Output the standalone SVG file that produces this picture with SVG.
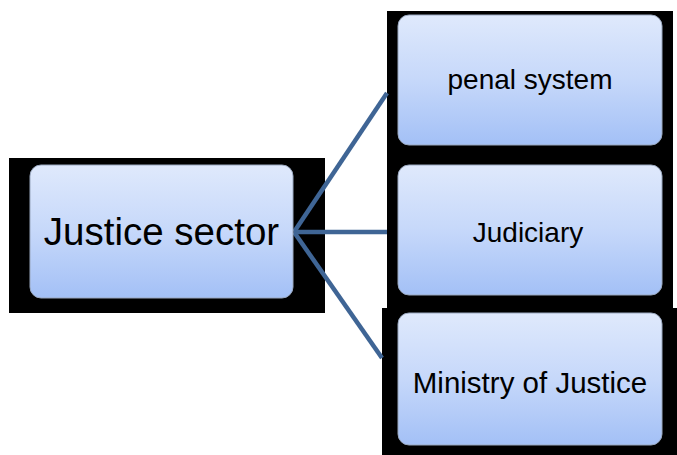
<svg xmlns="http://www.w3.org/2000/svg" width="677" height="455" viewBox="0 0 677 455">
  <defs>
    <linearGradient id="boxFill" x1="0" y1="0" x2="0" y2="1">
      <stop offset="0" stop-color="#dfe9fc"/>
      <stop offset="0.5" stop-color="#c6d8fa"/>
      <stop offset="1" stop-color="#a3c0f6"/>
    </linearGradient>
    <style>
      .backdrop { fill: #000000; }
      .box { fill: url(#boxFill); stroke: #9aa8bf; stroke-width: 1; }
      .label { font-family: "Liberation Sans", Arial, sans-serif; fill: #000000; text-anchor: middle; }
      .link { stroke: #3f6595; stroke-width: 4.5; fill: none; stroke-linecap: butt; }
    </style>
  </defs>

  <rect width="677" height="455" fill="#ffffff"/>

  <!-- dark backdrops behind the boxes -->
  <g id="backdrops">
    <rect class="backdrop" x="9" y="158" width="316" height="155"/>
    <rect class="backdrop" x="387" y="11" width="286" height="297"/>
    <rect class="backdrop" x="382" y="308" width="295" height="147"/>
  </g>

  <!-- connectors from the root to each branch -->
  <g id="connectors">
    <line class="link" x1="294" y1="232" x2="387" y2="93"/>
    <line class="link" x1="294" y1="232" x2="387" y2="232"/>
    <line class="link" x1="294" y1="232" x2="382" y2="358"/>
  </g>

  <g id="justice-sector">
    <rect class="box" x="30" y="165" width="263" height="133" rx="11"/>
    <text class="label" x="161.5" y="245" font-size="38.5">Justice sector</text>
  </g>

  <g id="penal-system">
    <rect class="box" x="398" y="15" width="264" height="130" rx="11"/>
    <text class="label" x="530" y="89" font-size="28">penal system</text>
  </g>

  <g id="judiciary">
    <rect class="box" x="398" y="165" width="264" height="130" rx="11"/>
    <text class="label" x="528" y="242" font-size="28">Judiciary</text>
  </g>

  <g id="ministry-of-justice">
    <rect class="box" x="398" y="313" width="264" height="132" rx="11"/>
    <text class="label" x="530" y="393" font-size="29.5">Ministry of Justice</text>
  </g>
</svg>
